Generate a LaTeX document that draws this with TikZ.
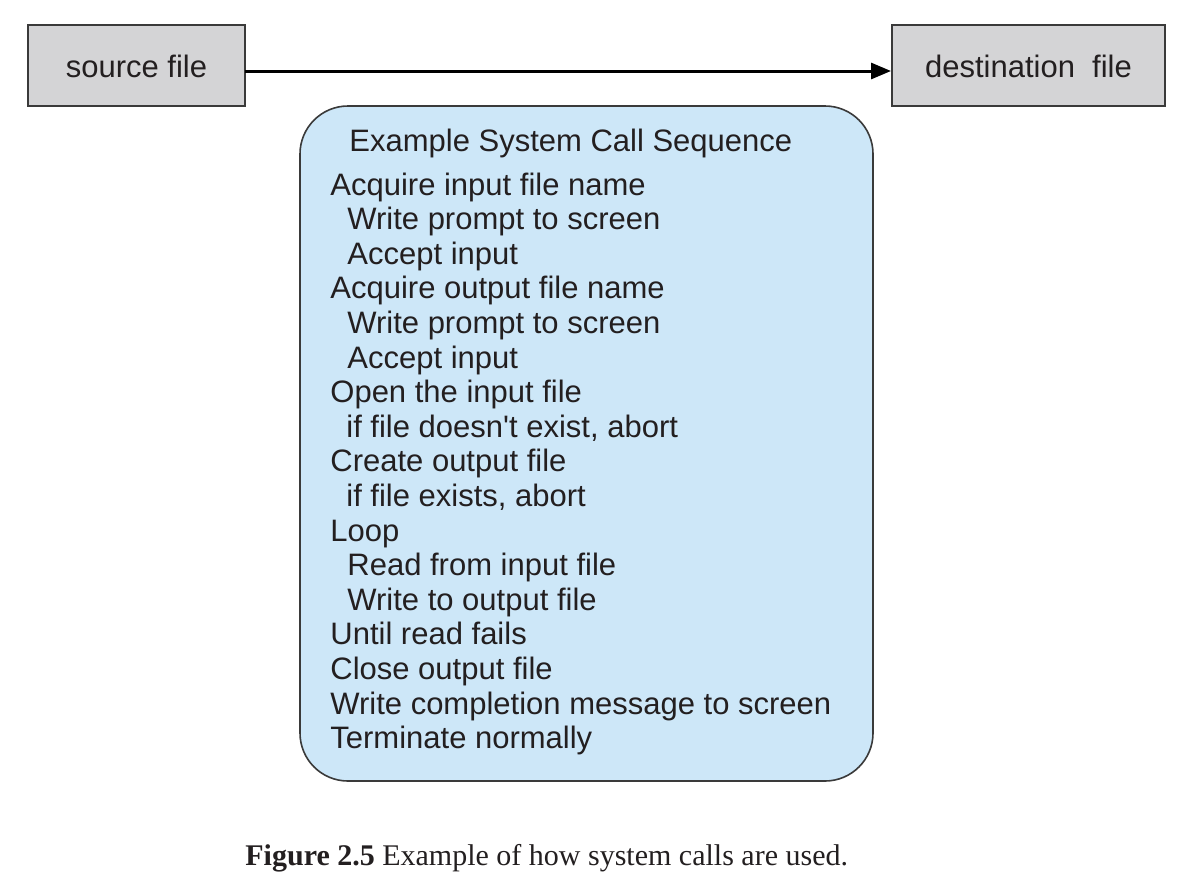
\documentclass[tikz,border=0pt]{standalone}
\usepackage{fontspec}
\setmainfont{Liberation Sans}[Ligatures=TeXOff]
\newfontfamily\capfont{Liberation Serif}
\usetikzlibrary{arrows.meta}
\definecolor{boxgray}{HTML}{D4D4D6}
\definecolor{boxblue}{HTML}{CDE7F8}
\definecolor{edge}{HTML}{3A3A3A}
\definecolor{ink}{HTML}{231F20}
\tikzset{
  filebox/.style={draw=edge, line width=1pt, fill=boxgray},
  flabel/.style={anchor=base, inner sep=0pt, text=ink, font=\fontsize{15.5}{17}\selectfont},
  seqline/.style={anchor=base west, inner sep=0pt, text=ink, font=\fontsize{15.5}{17}\selectfont},
  flow/.style={line width=1.5pt, draw=black, -{Triangle[length=10pt,width=8pt]}}
}
\begin{document}
\begin{tikzpicture}[x=0.5pt,y=-0.5pt]
\useasboundingbox (0,0) rectangle (1186,894);
% file boxes
\draw[filebox] (28,25) rectangle (245,106);
\draw[filebox] (892,25) rectangle (1165,106);
\coordinate (srcE) at (245,71);
\coordinate (dstW) at (891,71);
\node[flabel] (src) at (136.5,77) {source file};
\node[flabel] (dst) at (1028.5,77) {destination\ \ file};
\draw[flow] (srcE) -- (dstW);
% sequence box
\draw[draw=edge, line width=0.8pt, fill=boxblue, rounded corners=24pt] (300,106) rectangle (873,781);
\node[seqline] (title) at (349,151) {Example System Call Sequence};
\foreach \t/\x [count=\i from 0] in {
  Acquire input file name/330,
  Write prompt to screen/347,
  Accept input/347,
  Acquire output file name/330,
  Write prompt to screen/347,
  Accept input/347,
  Open the input file/330,
  if file doesn't exist{,} abort/346,
  Create output file/330,
  if file exists{,} abort/346,
  Loop/330,
  Read from input file/347,
  Write to output file/347,
  Until read fails/330,
  Close output file/330,
  Write completion message to screen/330,
  Terminate normally/330}
  \node[seqline] (l\i) at (\x,{195+34.6*\i}) {\t};
% caption
\node[anchor=base west, inner sep=0pt, text=ink, font=\capfont\fontsize{15}{17}\selectfont] (cap) at (245,865) {\textbf{Figure 2.5} Example of how system calls are used.};
\end{tikzpicture}
\end{document}
